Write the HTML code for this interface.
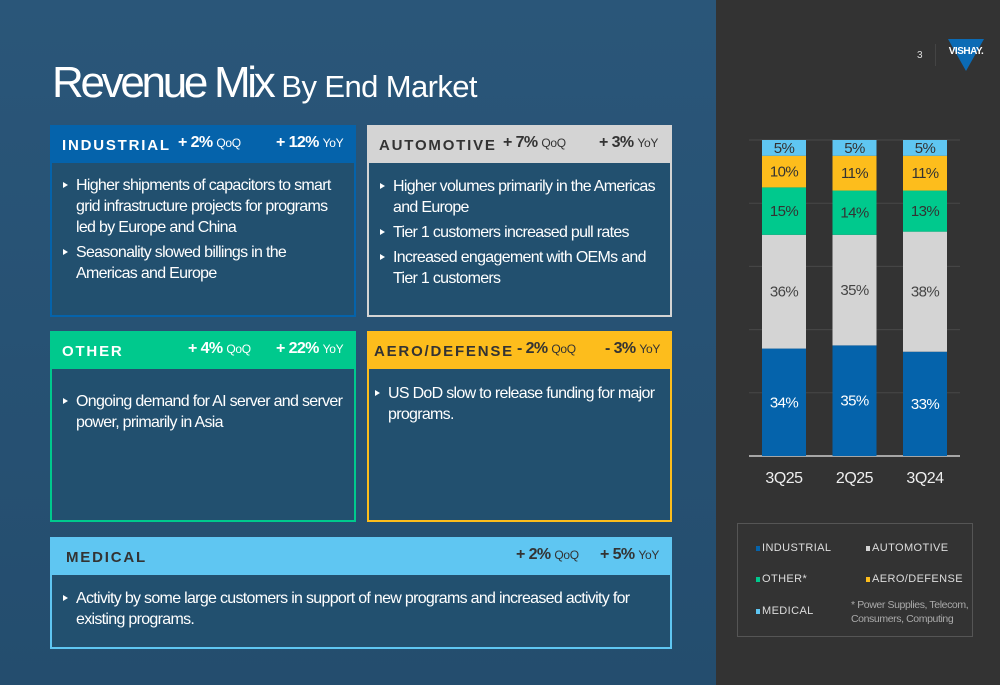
<!DOCTYPE html>
<html><head><meta charset="utf-8"><style>
*{margin:0;padding:0;box-sizing:border-box}
body{width:1000px;height:685px;position:relative;overflow:hidden;font-family:"Liberation Sans",Arial,sans-serif;background:#285276}
.left{position:absolute;left:0;top:0;width:716px;height:685px;background:linear-gradient(180deg,#2a5679,#244d6e)}
.right{position:absolute;left:716px;top:0;width:284px;height:685px;background:#333}
.title{position:absolute;left:52px;top:58px;color:#fff;font-size:44px;letter-spacing:-3.3px;white-space:nowrap}
.title span{font-size:31px;letter-spacing:-0.6px}
.card{position:absolute;border:2px solid;background:#22506f}
.hd{position:absolute;left:0;top:0;right:0;height:36px;font-weight:bold;font-size:15px;letter-spacing:1.8px;white-space:nowrap}
.hd .n{position:absolute;left:10px;top:10px}
.hd .p{position:absolute;top:7px;font-size:16px;letter-spacing:-0.6px}
.hd .p small{font-weight:normal;font-size:12px;letter-spacing:-0.3px}
ul{position:absolute;left:10px;right:8px;list-style:none;color:#fff;font-size:16px;line-height:21px;letter-spacing:-0.7px}
li{position:relative;padding-left:14px;margin-bottom:4px}
li:before{content:"";position:absolute;left:1px;top:7px;border-left:5px solid #fff;border-top:3.5px solid transparent;border-bottom:3.5px solid transparent}
.lg{position:absolute;color:#ddd;font-size:11px;letter-spacing:0.4px;white-space:nowrap}
.lg i{display:inline-block;width:4px;height:5px;margin-right:2px}
</style></head><body>
<div class="left"></div>
<div class="right"></div>
<div class="title">Revenue Mix <span>By End Market</span></div>

<div class="card" style="left:50px;top:125px;width:306px;height:192px;border-color:#0563ab">
<div class="hd" style="background:#0563ab;color:#fff"><span class="n">INDUSTRIAL</span><span class="p" style="left:126px">+ 2% <small>QoQ</small></span><span class="p" style="left:224px">+ 12% <small>YoY</small></span></div>
<ul style="top:48px"><li>Higher shipments of capacitors to smart grid infrastructure projects for programs led by Europe and China</li><li>Seasonality slowed billings in the Americas and Europe</li></ul></div>

<div class="card" style="left:367px;top:125px;width:305px;height:192px;border-color:#d4d4d4">
<div class="hd" style="background:#d4d4d4;color:#333"><span class="n">AUTOMOTIVE</span><span class="p" style="left:134px">+ 7% <small>QoQ</small></span><span class="p" style="left:230px">+ 3% <small>YoY</small></span></div>
<ul style="top:49px"><li>Higher volumes primarily in the Americas and Europe</li><li>Tier 1 customers increased pull rates</li><li>Increased engagement with OEMs and Tier 1 customers</li></ul></div>

<div class="card" style="left:50px;top:331px;width:306px;height:191px;border-color:#00c98d">
<div class="hd" style="background:#00c98d;color:#fff"><span class="n">OTHER</span><span class="p" style="left:136px">+ 4% <small>QoQ</small></span><span class="p" style="left:224px">+ 22% <small>YoY</small></span></div>
<ul style="top:58px"><li>Ongoing demand for AI server and server power, primarily in Asia</li></ul></div>

<div class="card" style="left:367px;top:331px;width:305px;height:191px;border-color:#fdbd1c">
<div class="hd" style="background:#fdbd1c;color:#333"><span class="n" style="left:5px">AERO/DEFENSE</span><span class="p" style="left:148px">- 2% <small>QoQ</small></span><span class="p" style="left:236px">- 3% <small>YoY</small></span></div>
<ul style="top:50px;left:5px"><li>US DoD slow to release funding for major programs.</li></ul></div>

<div class="card" style="left:50px;top:537px;width:622px;height:112px;border-color:#5fc6f2">
<div class="hd" style="background:#5fc6f2;color:#333"><span class="n" style="left:14px">MEDICAL</span><span class="p" style="left:464px">+ 2% <small>QoQ</small></span><span class="p" style="left:548px">+ 5% <small>YoY</small></span></div>
<ul style="top:49px"><li>Activity by some large customers in support of new programs and increased activity for existing programs.</li></ul></div>

<div style="position:absolute;left:917px;top:50px;color:#ddd;font-size:10px">3</div>
<div style="position:absolute;left:935px;top:44px;width:1px;height:22px;background:#444"></div>
<svg style="position:absolute;left:946px;top:37px" width="40" height="36"><polygon points="2,2 38,2 20,34" fill="#0b6bb5"/><text x="20" y="17" text-anchor="middle" fill="#fff" font-size="10" font-weight="bold" font-family="Liberation Sans" letter-spacing="-0.5">VISHAY.</text></svg>

<svg id="chart" style="position:absolute;left:0;top:0" width="1000" height="685"></svg>

<div style="position:absolute;left:737px;top:523px;width:236px;height:114px;border:1px solid #555">
<div class="lg" style="left:18px;top:18px"><i style="background:#0563ab"></i>INDUSTRIAL</div>
<div class="lg" style="left:128px;top:18px"><i style="background:#d4d4d4"></i>AUTOMOTIVE</div>
<div class="lg" style="left:18px;top:49px"><i style="background:#00c98d"></i>OTHER*</div>
<div class="lg" style="left:128px;top:49px"><i style="background:#fdbd1c"></i>AERO/DEFENSE</div>
<div class="lg" style="left:18px;top:81px"><i style="background:#5fc6f2"></i>MEDICAL</div>
<div style="position:absolute;left:113px;top:74px;color:#aaa;font-size:10.5px;line-height:14px;white-space:nowrap;letter-spacing:-0.4px">* Power Supplies, Telecom,<br>Consumers, Computing</div>
</div>

<script>
const categories=["3Q25","2Q25","3Q24"];
const industrial=[34,35,33];
const automotive=[36,35,38];
const other=[15,14,13];
const aero=[10,11,11];
const medical=[5,5,5];
const gridTicks=[0,20,40,60,80,100];
const series=[
 {name:"industrial",vals:industrial,color:"#0563ab",text:"#fff"},
 {name:"automotive",vals:automotive,color:"#d4d4d4",text:"#444"},
 {name:"other",vals:other,color:"#00c98d",text:"#333"},
 {name:"aero-defense",vals:aero,color:"#fdbd1c",text:"#333"},
 {name:"medical",vals:medical,color:"#5fc6f2",text:"#333"}];
const svg=document.getElementById('chart');const NS="http://www.w3.org/2000/svg";
const y=v=>456-v*3.16;
const x=i=>784+i*70.5;
const bw=44;
function mk(t,a){const e=document.createElementNS(NS,t);for(const k in a)e.setAttribute(k,a[k]);svg.appendChild(e);return e;}
gridTicks.forEach(t=>{const l=mk('line',{x1:749,x2:960,y1:y(t),y2:y(t),stroke:t===0?'#ccc':'#484848','stroke-width':t===0?1.5:1});

});
categories.forEach((c,i)=>{let acc=0;
 series.forEach(s=>{const v=s.vals[i];const r=mk('rect',{x:x(i)-bw/2,y:y(acc+v),width:bw,height:v*3.16,fill:s.color});
 
 
 const t=mk('text',{x:x(i),y:y(acc+v/2)+5,'text-anchor':'middle',fill:s.text,'font-size':15,'letter-spacing':-0.6,'font-family':'Liberation Sans'});t.textContent=v+'%';
 
 
 acc+=v;});
 const t=mk('text',{x:x(i),y:483,'text-anchor':'middle',fill:'#eee','font-size':16,'letter-spacing':-0.5,'font-family':'Liberation Sans'});t.textContent=c;
 
 
});
</script>
</body></html>
